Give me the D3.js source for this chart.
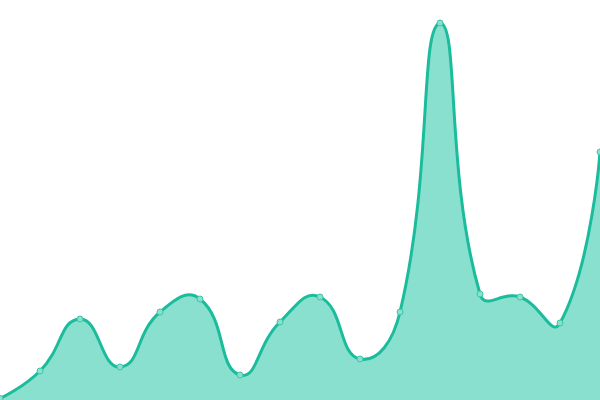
<!DOCTYPE html>
<html><head><meta charset="utf-8">
<script src="https://cdn.jsdelivr.net/npm/d3@7"></script>
<style>html,body{margin:0;padding:0;background:#fff;overflow:hidden}</style>
</head><body>
<svg id="c" width="600" height="400"></svg>
<script>
const categories = ["0","1","2","3","4","5","6","7","8","9","10","11","12","13","14","15"];
const values = [1.5, 29, 81, 33, 88, 101, 25, 78, 103, 41, 88, 377, 106, 103, 77, 248];

const W = 600, H = 400;
const svg = d3.select("#c");
const x = d3.scalePoint().domain(categories).range([0, W]);
const y = d3.scaleLinear().domain([0, 400]).range([H, 0]);
const data = categories.map((c, i) => ({c, v: values[i]}));

// distance-weighted smoothing curve (smooth = 0.5, bbox constrained)
function SmoothCurve(context) { this._context = context; }
SmoothCurve.prototype = {
  areaStart() { this._line = 0; },
  areaEnd() { this._line = NaN; },
  lineStart() { this._pts = []; },
  point(px, py) { this._pts.push([+px, +py]); },
  lineEnd() {
    const p = this._pts, n = p.length, ctx = this._context, s = 0.5;
    if (n) {
      const minX = d3.min(p, d => d[0]), maxX = d3.max(p, d => d[0]);
      const minY = d3.min(p, d => d[1]), maxY = d3.max(p, d => d[1]);
      const clamp = q => [Math.max(minX, Math.min(maxX, q[0])), Math.max(minY, Math.min(maxY, q[1]))];
      const cps = [];
      for (let i = 0; i < n; i++) {
        if (i === 0 || i === n - 1) { cps.push(p[i].slice(), p[i].slice()); continue; }
        const prev = p[i - 1], next = p[i + 1], pt = p[i];
        const vx = (next[0] - prev[0]) * s, vy = (next[1] - prev[1]) * s;
        let d0 = Math.hypot(pt[0] - prev[0], pt[1] - prev[1]);
        let d1 = Math.hypot(pt[0] - next[0], pt[1] - next[1]);
        const sum = d0 + d1;
        if (sum) { d0 /= sum; d1 /= sum; }
        cps.push(clamp([pt[0] - vx * d0, pt[1] - vy * d0]));
        cps.push(clamp([pt[0] + vx * d1, pt[1] + vy * d1]));
      }
      if (this._line) ctx.lineTo(p[0][0], p[0][1]); else ctx.moveTo(p[0][0], p[0][1]);
      for (let i = 0; i < n - 1; i++) {
        const c0 = cps[2 * i + 1], c1 = cps[2 * (i + 1)];
        ctx.bezierCurveTo(c0[0], c0[1], c1[0], c1[1], p[i + 1][0], p[i + 1][1]);
      }
    }
    if (this._line || (this._line !== 0 && n === 1)) ctx.closePath();
    this._line = 1 - this._line;
  }
};
const curve = ctx => new SmoothCurve(ctx);

const area = d3.area().x(d => x(d.c)).y0(y(0)).y1(d => y(d.v)).curve(curve);
const line = d3.line().x(d => x(d.c)).y(d => y(d.v)).curve(curve);

svg.append("path").datum(data).attr("d", area).attr("fill", "#89e0ce");
svg.append("path").datum(data).attr("d", line).attr("fill", "none")
  .attr("stroke", "#1abc9c").attr("stroke-width", 3);
svg.selectAll("circle").data(data).join("circle")
  .attr("cx", d => x(d.c)).attr("cy", d => y(d.v)).attr("r", 3)
  .attr("fill", "#89e0ce").attr("stroke", "#3cc6a8").attr("stroke-width", 1);
</script>
</body></html>
